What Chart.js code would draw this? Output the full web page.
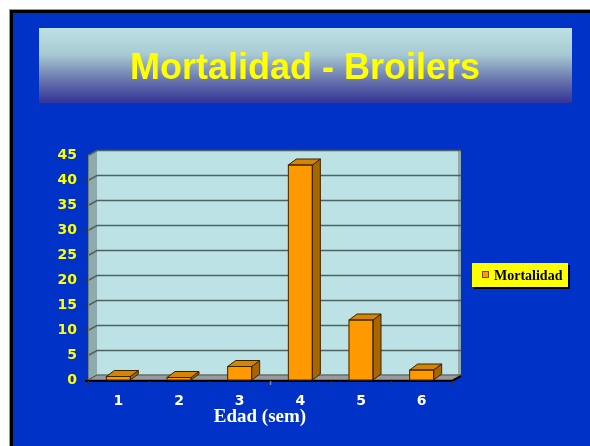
<!DOCTYPE html>
<html>
<head>
<meta charset="utf-8">
<script src="https://cdn.jsdelivr.net/npm/chart.js@4.4.0/dist/chart.umd.min.js"></script>
<style>
html,body{margin:0;padding:0;background:#fff;}
#wrap{width:590px;height:446px;position:relative;}
canvas{display:block;}
</style>
</head>
<body>
<div id="wrap"><canvas id="c" width="590" height="446"></canvas></div>
<script>
const titleText = "Mortalidad - Broilers";
const categories = ["1", "2", "3", "4", "5", "6"];
const mortalidad = [0.7, 0.5, 2.7, 43, 12, 2];
const seriesName = "Mortalidad";
const axisTitle = "Edad (sem)";
const yMin = 0, yMax = 45, yStep = 5;

const WALL_DX = 9, WALL_DY = 5;
const BAR_DX = 8, BAR_DY = 6;

const scene = {
  id: 'scene',
  beforeDraw(chart) {
    const ctx = chart.ctx;
    const W = chart.width, H = chart.height;
    ctx.save();
    ctx.fillStyle = '#ffffff';
    ctx.fillRect(0, 0, W, H);
    ctx.fillStyle = '#999999';
    ctx.fillRect(9, 9, W, H);
    ctx.fillStyle = '#000000';
    ctx.fillRect(10, 10, W, H);
    ctx.fillStyle = '#0032C8';
    ctx.fillRect(13, 13, W, H);
    // title box
    const g = ctx.createLinearGradient(0, 28, 0, 103);
    g.addColorStop(0, '#BCE2E4');
    g.addColorStop(0.35, '#A8CAD4');
    g.addColorStop(0.7, '#6874AC');
    g.addColorStop(1, '#333399');
    ctx.fillStyle = g;
    ctx.fillRect(39, 28, 533, 75);
    ctx.fillStyle = '#FFFF00';
    ctx.font = 'bold 36px "Liberation Sans", Arial, sans-serif';
    ctx.textAlign = 'center';
    ctx.textBaseline = 'alphabetic';
    ctx.fillText(titleText, 305, 79);

    // 3D walls
    const a = chart.chartArea;
    const ys = chart.scales.y;
    const L = a.left, R = a.right, T = a.top, B = a.bottom;
    // side wall
    ctx.fillStyle = '#8FAAAD';
    ctx.beginPath();
    ctx.moveTo(L, T); ctx.lineTo(L + WALL_DX, T - WALL_DY);
    ctx.lineTo(L + WALL_DX, B - WALL_DY); ctx.lineTo(L, B); ctx.closePath();
    ctx.fill();
    // back wall
    ctx.fillStyle = '#BCE2E5';
    ctx.fillRect(L + WALL_DX, T - WALL_DY, R - L, B - T);
    // right edge shading
    ctx.fillStyle = '#8FA8AA';
    ctx.fillRect(R + WALL_DX - 3, T - WALL_DY, 3, B - T);
    // gridlines
    ctx.lineWidth = 1.5;
    for (let v = yMin; v <= yMax; v += yStep) {
      const y = Math.round(ys.getPixelForValue(v)) + 0.5;
      ctx.strokeStyle = '#4E6262';
      ctx.beginPath();
      ctx.moveTo(L, y);
      ctx.lineTo(L + WALL_DX, y - WALL_DY);
      ctx.lineTo(R + WALL_DX, y - WALL_DY);
      ctx.stroke();
      ctx.strokeStyle = '#333333';
      ctx.beginPath();
      ctx.moveTo(L - 4, y); ctx.lineTo(L, y);
      ctx.stroke();
    }
    // wall outline
    ctx.strokeStyle = '#6E8484';
    ctx.lineWidth = 1;
    ctx.beginPath();
    ctx.moveTo(L + 0.5, B); ctx.lineTo(L + 0.5, T);
    ctx.stroke();
    // floor
    ctx.fillStyle = '#9A9A9A';
    ctx.beginPath();
    ctx.moveTo(L, B); ctx.lineTo(R, B);
    ctx.lineTo(R + WALL_DX, B - WALL_DY); ctx.lineTo(L + WALL_DX, B - WALL_DY);
    ctx.closePath(); ctx.fill();
    ctx.strokeStyle = '#555555';
    ctx.stroke();
    ctx.restore();
  },
  afterDatasetsDraw(chart) {
    const ctx = chart.ctx;
    const a = chart.chartArea;
    ctx.save();
    // front axis line
    ctx.strokeStyle = '#000000';
    ctx.lineWidth = 2;
    ctx.beginPath();
    ctx.moveTo(a.left - 3, a.bottom + 1);
    ctx.lineTo(a.right, a.bottom + 1);
    ctx.lineTo(a.right + WALL_DX, a.bottom + 1 - WALL_DY);
    ctx.stroke();
    // x tick marks
    ctx.lineWidth = 1.5;
    const n = categories.length;
    const step = (a.right - a.left) / n;
    for (let i = 0; i <= n; i++) {
      const x = Math.round(a.left + i * step) + 0.5;
      ctx.strokeStyle = i === 3 ? '#888888' : '#333333';
      ctx.beginPath();
      ctx.moveTo(x, a.bottom + 1); ctx.lineTo(x, a.bottom + 5);
      ctx.stroke();
    }
    // axis title
    ctx.fillStyle = '#FFFFFF';
    ctx.font = 'bold 19px "Liberation Serif", "Times New Roman", serif';
    ctx.textAlign = 'center';
    ctx.textBaseline = 'alphabetic';
    ctx.fillText(axisTitle, 260, 422);

    // legend
    ctx.fillStyle = '#000000';
    ctx.fillRect(474, 265, 96, 24);
    ctx.fillStyle = '#FFFF00';
    ctx.fillRect(472, 263, 96, 24);
    ctx.fillStyle = '#FF9900';
    ctx.fillRect(482, 271, 7, 7);
    ctx.strokeStyle = '#7A4A00';
    ctx.lineWidth = 1;
    ctx.strokeRect(482.5, 271.5, 6, 6);
    ctx.fillStyle = '#000000';
    ctx.font = 'bold 14px "Liberation Serif", "Times New Roman", serif';
    ctx.textAlign = 'left';
    ctx.fillText(seriesName, 494, 280);
    ctx.restore();
  }
};

const bar3d = {
  id: 'bar3d',
  afterDatasetsDraw(chart) {
    const ctx = chart.ctx;
    const meta = chart.getDatasetMeta(0);
    ctx.save();
    ctx.lineWidth = 1;
    ctx.strokeStyle = '#3A2200';
    meta.data.forEach(el => {
      const p = el.getProps(['x', 'y', 'base', 'width'], true);
      const l = p.x - p.width / 2, r = p.x + p.width / 2;
      const t = p.y, b = p.base;
      ctx.fillStyle = '#A86600';
      ctx.beginPath();
      ctx.moveTo(r, t); ctx.lineTo(r + BAR_DX, t - BAR_DY);
      ctx.lineTo(r + BAR_DX, b - BAR_DY); ctx.lineTo(r, b); ctx.closePath();
      ctx.fill(); ctx.stroke();
      ctx.fillStyle = '#D58600';
      ctx.beginPath();
      ctx.moveTo(l, t); ctx.lineTo(l + BAR_DX, t - BAR_DY);
      ctx.lineTo(r + BAR_DX, t - BAR_DY); ctx.lineTo(r, t); ctx.closePath();
      ctx.fill(); ctx.stroke();
      ctx.strokeRect(l, t, r - l, b - t);
    });
    ctx.restore();
  }
};

new Chart(document.getElementById('c'), {
  type: 'bar',
  data: {
    labels: categories,
    datasets: [{
      label: seriesName,
      data: mortalidad,
      backgroundColor: '#FF9900',
      borderWidth: 0,
      barThickness: 24
    }]
  },
  options: {
    responsive: false,
    animation: false,
    devicePixelRatio: 1,
    layout: { padding: { left: 0, right: 138, top: 155, bottom: 0 } },
    plugins: {
      legend: { display: false },
      title: { display: false },
      tooltip: { enabled: false }
    },
    scales: {
      x: {
        grid: { display: false, drawTicks: false },
        border: { display: false },
        ticks: {
          color: '#FFFFFF',
          padding: 13,
          font: { family: '"DejaVu Sans", sans-serif', weight: 'bold', size: 14 }
        },
        afterFit(s) { s.height = 66; }
      },
      y: {
        min: yMin, max: yMax,
        grid: { display: false, drawTicks: false },
        border: { display: false },
        ticks: {
          stepSize: yStep,
          color: '#FFFF00',
          padding: 11,
          font: { family: '"DejaVu Sans", sans-serif', weight: 'bold', size: 14 }
        },
        afterFit(s) { s.width = 88; }
      }
    }
  },
  plugins: [scene, bar3d]
});
</script>
</body>
</html>
